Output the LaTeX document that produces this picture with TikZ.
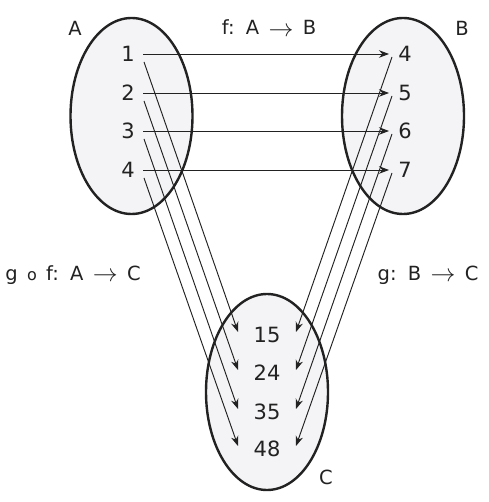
\documentclass[tikz,border=0pt]{standalone}
\usepackage{fontspec}
\setmainfont{DejaVu Sans}
\newfontfamily\labfont[WordSpace=1.5]{DejaVu Sans}
\usetikzlibrary{arrows.meta,shapes.geometric}
\definecolor{inkc}{HTML}{222222}
\definecolor{setfill}{HTML}{F4F4F6}
\newcommand{\maparr}{\raisebox{-1.5pt}{\fontsize{24}{24}\selectfont$\rightarrow$}}
\begin{document}
\begin{tikzpicture}[x=1pt,y=-1pt,
  setell/.style={ellipse, draw=inkc, line width=2.4pt, fill=setfill, minimum width=122pt, minimum height=196pt, inner sep=0pt},
  num/.style={font=\fontsize{21}{21}\selectfont, text=inkc, inner sep=0pt},
  lab/.style={font=\labfont\fontsize{19.5}{20}\selectfont, text=inkc, inner sep=0pt},
  map/.style={-{Stealth[length=10pt,width=7.5pt]}, line width=0.95pt, draw=inkc}]
\useasboundingbox (0,0) rectangle (488,502);
% sets
\node[setell] (SA) at (131.5,116) {};
\node[setell] (SB) at (403,116) {};
\node[setell] (SC) at (267,392) {};
% elements
\node[num] (a1) at (128,54) {1};
\node[num] (a2) at (128,93) {2};
\node[num] (a3) at (128,131) {3};
\node[num] (a4) at (128,170) {4};
\node[num] (b4) at (405,54) {4};
\node[num] (b5) at (405,93) {5};
\node[num] (b6) at (405,131) {6};
\node[num] (b7) at (405,170) {7};
\node[num] (c15) at (267,335) {15};
\node[num] (c24) at (267,373) {24};
\node[num] (c35) at (267,412) {35};
\node[num] (c48) at (267,449) {48};
% labels
\node[lab] (lA) at (75,28) {A};
\node[lab] (lB) at (462,28) {B};
\node[lab] (lC) at (326,477) {C};
\node[lab, anchor=base] (lf) at (269,35) {f: A \maparr{} B};
\node[lab, anchor=base] (lgf) at (73,280) {g {\fontsize{16}{16}\selectfont o} f: A \maparr{} C};
\node[lab, anchor=base] (lg) at (428,280) {g: B \maparr{} C};
% f: A -> B
\foreach \s/\t in {a1/b4, a2/b5, a3/b6, a4/b7}
  \draw[map] ([xshift=15pt]\s.center) -- ([xshift=-16pt]\t.center);
% g o f: A -> C
\foreach \s/\t in {a1/c15, a2/c24, a3/c35, a4/c48}
  \draw[map] ([shift={(16,8)}]\s.center) -- ([shift={(-29,-3)}]\t.center);
% g: B -> C
\foreach \s/\t in {b4/c15, b5/c24, b6/c35, b7/c48}
  \draw[map] ([shift={(-13,3)}]\s.center) -- ([shift={(29,-3)}]\t.center);
\end{tikzpicture}
\end{document}
